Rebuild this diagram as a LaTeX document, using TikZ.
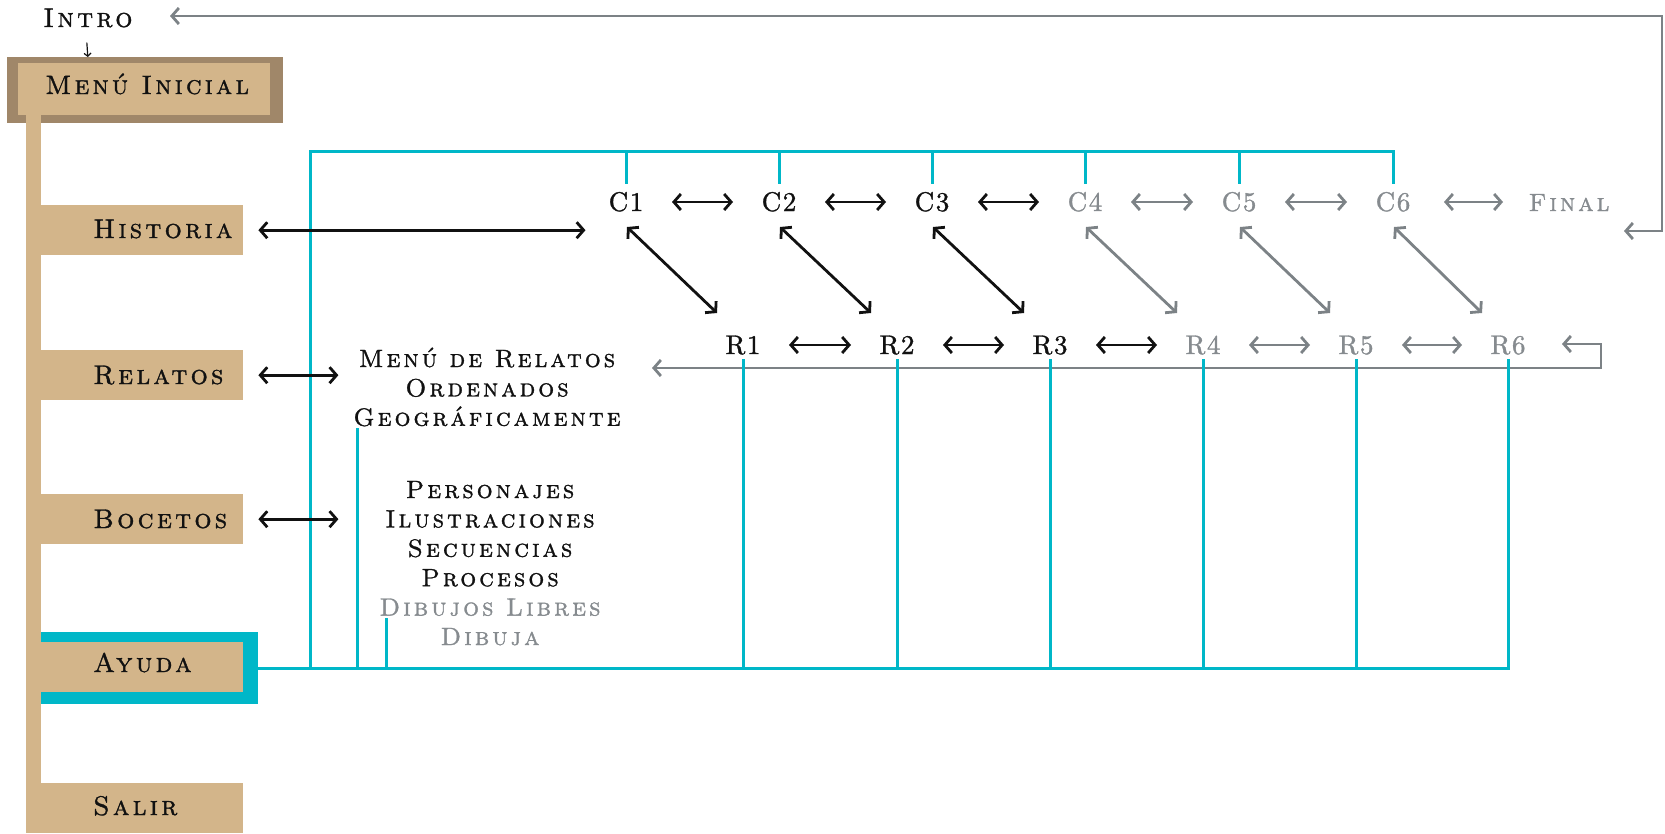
\documentclass[tikz,border=0pt]{standalone}
\usepackage{fontspec}
\newfontfamily\scf{lmromancaps10-regular.otf}[LetterSpace=12,FakeBold=1.2]
\newfontfamily\crf{lmroman10-regular.otf}[LetterSpace=6,FakeBold=1.2]
\usetikzlibrary{arrows.meta,calc}
\definecolor{tanc}{HTML}{D3B58A}
\definecolor{brownc}{HTML}{A08769}
\definecolor{cyanc}{HTML}{00B7C8}
\definecolor{grayc}{HTML}{7C8286}
\definecolor{tgray}{HTML}{868B8F}
\definecolor{inkc}{HTML}{111111}
\tikzset{
  blk/.style={draw=inkc, line width=2.8pt, <->},
  gry/.style={draw=grayc, line width=2.8pt, <->},
  cy/.style={draw=cyanc, line width=3pt},
  tanbox/.style={fill=tanc, inner sep=0pt, minimum width=217pt, minimum height=50pt, anchor=north west},
  mtext/.style={font=\scf\fontsize{27}{32}\selectfont, text=inkc, inner sep=0pt, anchor=base west},
  ctext/.style={font=\crf\fontsize{27}{32}\selectfont, text=inkc, text height=18pt, text depth=0pt, inner xsep=2pt, inner ysep=9pt},
  cgray/.style={ctext, text=tgray},
  rtext/.style={ctext, inner ysep=5pt},
  rgray/.style={rtext, text=tgray},
  btext/.style={font=\scf\fontsize{25}{29.4}\selectfont, align=center, inner sep=0pt, anchor=base, text=inkc},
}
\begin{document}
\begin{tikzpicture}[x=1pt,y=-1pt,>={Straight Barb[length=7pt,width=16pt]}]
\useasboundingbox (0,0) rectangle (1665,833);
% menu inicial and left column
\node[fill=brownc, inner sep=0pt, minimum width=276pt, minimum height=66pt, anchor=north west] (miout) at (7,57) {};
\node[fill=tanc, inner sep=0pt, minimum width=252pt, minimum height=52pt, anchor=north west] (mibox) at (18,63) {};
\node[fill=cyanc, inner sep=0pt, minimum width=217pt, minimum height=72pt, anchor=north west] (ayf) at (41,632) {};
\fill[tanc] (26,63) rectangle (41,833);
\node[tanbox] (hist) at (26,205) {};
\node[tanbox] (rel) at (26,350) {};
\node[tanbox] (boc) at (26,494) {};
\node[tanbox] (ayu) at (26,642) {};
\node[tanbox] (sal) at (26,783) {};
\node[mtext] (introT) at (43,27) {Intro};
\node[mtext, font=\scf\fontsize{26.5}{30}\selectfont] (miT) at (45,94) {Menú Inicial};
\node[mtext] (histT) at (93,238) {Historia};
\node[mtext] (relT) at (93,384) {Relatos};
\node[mtext] (bocT) at (93,528) {Bocetos};
\node[mtext] (ayuT) at (93,672) {Ayuda};
\node[mtext] (salT) at (93,815) {Salir};
% C row
\node[ctext] (C1) at (626,202) {C1};
\node[ctext] (C2) at (779,202) {C2};
\node[ctext] (C3) at (932,202) {C3};
\node[cgray] (C4) at (1085,202) {C4};
\node[cgray] (C5) at (1239,202) {C5};
\node[cgray] (C6) at (1393,202) {C6};
\node[cgray, font=\scf\fontsize{25}{30}\selectfont] (final) at (1569,202) {Final};
% R row
\node[rtext] (R1) at (743,345) {R1};
\node[rtext] (R2) at (897,345) {R2};
\node[rtext] (R3) at (1050,345) {R3};
\node[rgray] (R4) at (1203,345) {R4};
\node[rgray] (R5) at (1356,345) {R5};
\node[rgray] (R6) at (1508,345) {R6};
% text blocks (base = last line)
\node[btext] (mrel) at (487,425.8) {Menú de Relatos\\Ordenados\\Geográficamente};
\node[btext] (bocL) at (490,645) {Personajes\\Ilustraciones\\Secuencias\\Procesos\\\textcolor{tgray}{Dibujos Libres}\\\textcolor{tgray}{Dibuja}};
% gray return paths
\coordinate (finIn) at ($(final)+(55,29)$);
\coordinate (cornerB) at (1662,231);
\coordinate (cornerT) at (1662,16);
\coordinate (introIn) at (170,16);
\draw[gry] (finIn) -- (cornerB) -- (cornerT) -- (introIn);
\coordinate (r6In) at ($(R6)+(54,-1)$);
\coordinate (rc1) at (1601,344);
\coordinate (rc2) at (1601,368);
\coordinate (mrelIn) at (652,368);
\draw[gry] (r6In) -- (rc1) -- (rc2) -- (mrelIn);
% cyan structure
\coordinate (topL) at (310,151);
\coordinate (botL) at (310,667);
\draw[cy] (botL) -- (topL) -- (C6.north |- topL) -- (C6.north);
\foreach \c in {C1,C2,C3,C4,C5} \draw[cy] (\c.north |- topL) -- (\c.north);
\draw[cy] (ayf.east) -- (R6.south |- ayf.east) -- (R6.south);
\foreach \r in {R1,R2,R3,R4,R5} \draw[cy] (\r.south) -- (\r.south |- ayf.east);
\coordinate (mrelFoot) at (357,428);
\coordinate (dibFoot) at (386,618);
\draw[cy] (mrelFoot) -- (mrelFoot |- ayf.east);
\draw[cy] (dibFoot) -- (dibFoot |- ayf.east);
% intro arrow
\draw[draw=inkc, line width=1.2pt, -{Straight Barb[length=3pt,width=7pt]}] ($(introT.south)+(-1,15)$) -- (introT.south |- miout.north);
% left menu arrows
\draw[blk, shorten <=15pt, shorten >=21pt] (hist.east) -- (hist.east -| C1.west);
\draw[blk, shorten <=15pt] (rel.east) -- ++(95,0);
\draw[blk, shorten <=15pt] (boc.east) -- ++(95,0);
% horizontal arrows
\draw[blk, shorten <=46pt, shorten >=46pt] (C1.center) -- (C2.center);
\draw[blk, shorten <=46pt, shorten >=46pt] (C2.center) -- (C3.center);
\draw[blk, shorten <=46pt, shorten >=46pt] (C3.center) -- (C4.center);
\draw[gry, shorten <=46pt, shorten >=46pt] (C4.center) -- (C5.center);
\draw[gry, shorten <=46pt, shorten >=46pt] (C5.center) -- (C6.center);
\draw[gry, shorten <=51pt, shorten >=66pt] (C6.center) -- (final.center);
\draw[blk, shorten <=46pt, shorten >=46pt] (R1.center) -- (R2.center);
\draw[blk, shorten <=46pt, shorten >=46pt] (R2.center) -- (R3.center);
\draw[blk, shorten <=46pt, shorten >=46pt] (R3.center) -- (R4.center);
\draw[gry, shorten <=46pt, shorten >=46pt] (R4.center) -- (R5.center);
\draw[gry, shorten <=46pt, shorten >=46pt] (R5.center) -- (R6.center);
% diagonal arrows
\draw[blk] ($(C1)+(1,25)$) -- ($(R1)+(-26,-32)$);
\draw[blk] ($(C2)+(1,25)$) -- ($(R2)+(-26,-32)$);
\draw[blk] ($(C3)+(1,25)$) -- ($(R3)+(-26,-32)$);
\draw[gry] ($(C4)+(1,25)$) -- ($(R4)+(-26,-32)$);
\draw[gry] ($(C5)+(1,25)$) -- ($(R5)+(-26,-32)$);
\draw[gry] ($(C6)+(1,25)$) -- ($(R6)+(-26,-32)$);
\end{tikzpicture}
\end{document}
